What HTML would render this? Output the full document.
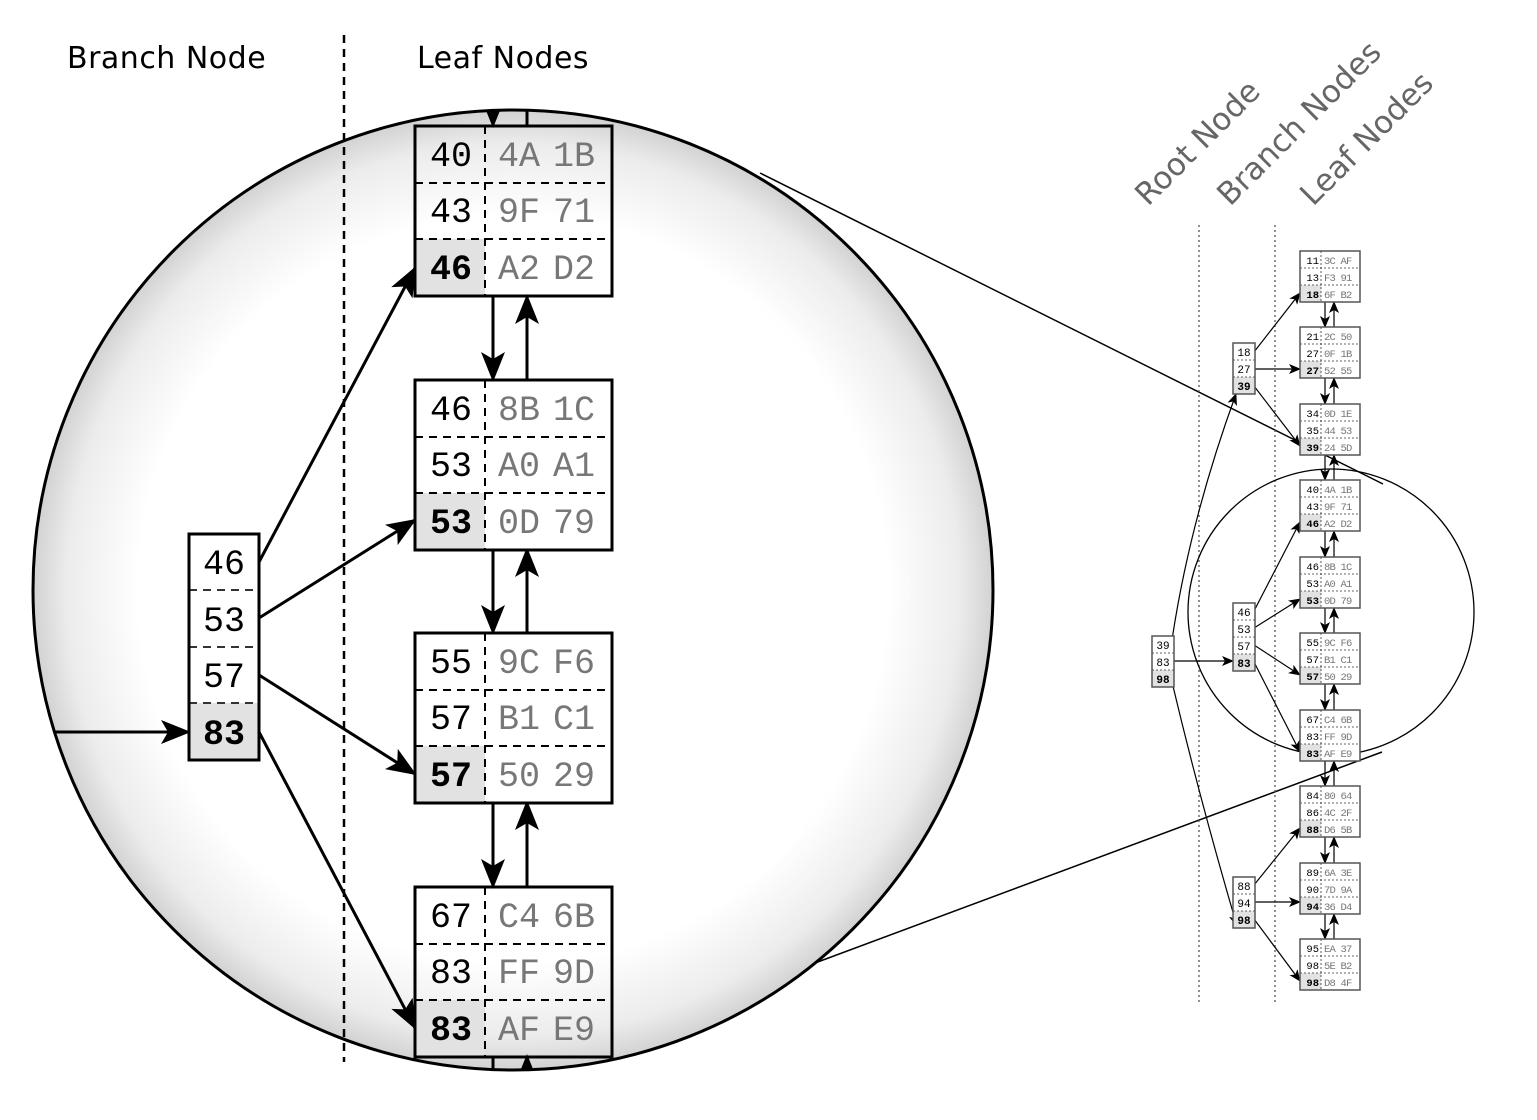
<!DOCTYPE html>
<html><head><meta charset="utf-8"><style>
html,body{margin:0;padding:0;background:#fff;}
svg{display:block;}
.m{font-family:"Liberation Mono",monospace;}
</style></head><body>
<svg width="1537" height="1120" viewBox="0 0 1537 1120" xmlns="http://www.w3.org/2000/svg">
<defs>
<radialGradient id="g" cx="513" cy="590" r="480" gradientUnits="userSpaceOnUse">
<stop offset="0" stop-color="#fff"/><stop offset="0.78" stop-color="#fff"/><stop offset="0.93" stop-color="#ececec"/><stop offset="1" stop-color="#d2d2d2"/>
</radialGradient>
<marker id="A" markerWidth="12" markerHeight="10" refX="11" refY="5" orient="auto" markerUnits="userSpaceOnUse" viewBox="0 0 12 10">
<path d="M0,0 L12,5 L0,10 L3,5 Z" fill="#000"/></marker>
<marker id="B" markerWidth="30" markerHeight="24" refX="28" refY="12" orient="auto" markerUnits="userSpaceOnUse" viewBox="0 0 30 24">
<path d="M0,0 L30,12 L0,24 L7,12 Z" fill="#000"/></marker>
<clipPath id="cc"><circle cx="513" cy="590" r="480"/></clipPath>
</defs>

<line x1="760" y1="173" x2="1383" y2="484" stroke="#000" stroke-width="1.5"/>
<line x1="815" y1="963" x2="1382" y2="752" stroke="#000" stroke-width="1.5"/>

<circle cx="513" cy="590" r="480" fill="url(#g)" stroke="#000" stroke-width="3"/>

<g font-family="DejaVu Sans, sans-serif" font-size="30" fill="#000">
<text x="67" y="68" letter-spacing="0.5">Branch Node</text>
<text x="417" y="68" letter-spacing="0.5">Leaf Nodes</text>
</g>
<line x1="344" y1="35" x2="344" y2="1062" stroke="#000" stroke-width="2.5" stroke-dasharray="8,6"/>

<g clip-path="url(#cc)" stroke="#000" stroke-width="3">
<line x1="493" y1="100" x2="493" y2="126" marker-end="url(#B)"/>
<line x1="527" y1="126" x2="527" y2="100"/>
<line x1="493" y1="1056" x2="493" y2="1080"/>
<line x1="527" y1="1080" x2="527" y2="1056" marker-end="url(#B)"/>
</g>
<g stroke="#000" stroke-width="3">
<line x1="493" y1="296" x2="493" y2="380" marker-end="url(#B)"/>
<line x1="527" y1="380" x2="527" y2="296" marker-end="url(#B)"/>
<line x1="493" y1="549" x2="493" y2="633" marker-end="url(#B)"/>
<line x1="527" y1="633" x2="527" y2="549" marker-end="url(#B)"/>
<line x1="493" y1="802" x2="493" y2="887" marker-end="url(#B)"/>
<line x1="527" y1="887" x2="527" y2="802" marker-end="url(#B)"/>
<line x1="55" y1="732" x2="189" y2="732" marker-end="url(#B)"/>
<line x1="259" y1="562" x2="415" y2="268" marker-end="url(#B)"/>
<line x1="259" y1="618" x2="415" y2="520" marker-end="url(#B)"/>
<line x1="259" y1="675" x2="415" y2="774" marker-end="url(#B)"/>
<line x1="259" y1="732" x2="415" y2="1028" marker-end="url(#B)"/>
</g>

<rect x="189" y="534" width="70" height="226" fill="#fff"/>
<rect x="189" y="703" width="70" height="57" fill="#e2e2e2"/>
<g stroke="#333" stroke-width="2" stroke-dasharray="8,6"><line x1="189" y1="590" x2="259" y2="590"/><line x1="189" y1="647" x2="259" y2="647"/><line x1="189" y1="703" x2="259" y2="703"/></g>
<rect x="189" y="534" width="70" height="226" fill="none" stroke="#000" stroke-width="3"/>
<g class="m" font-size="35" text-anchor="middle">
<text x="224" y="574">46</text><text x="224" y="631">53</text><text x="224" y="687">57</text><text x="224" y="744" font-weight="bold">83</text>
</g>

<g class="m" font-size="35">
<g transform="translate(0,126)">
<rect x="415" y="113" width="70" height="57" fill="#e2e2e2"/>
<g stroke="#000" stroke-width="2" stroke-dasharray="8,6"><line x1="415" y1="57" x2="612" y2="57"/><line x1="415" y1="113" x2="612" y2="113"/><line x1="485" y1="0" x2="485" y2="170"/></g>
<rect x="415" y="0" width="197" height="170" fill="none" stroke="#000" stroke-width="3"/>
<text x="472" y="40" text-anchor="end">40</text><text x="472" y="96" text-anchor="end">43</text><text x="472" y="153" text-anchor="end" font-weight="bold">46</text>
<g fill="#777"><text x="498" y="40">4A</text><text x="553" y="40">1B</text><text x="498" y="96">9F</text><text x="553" y="96">71</text><text x="498" y="153">A2</text><text x="553" y="153">D2</text></g>
</g>
<g transform="translate(0,380)">
<rect x="415" y="0" width="197" height="170" fill="#fff"/>
<rect x="415" y="113" width="70" height="57" fill="#e2e2e2"/>
<g stroke="#000" stroke-width="2" stroke-dasharray="8,6"><line x1="415" y1="57" x2="612" y2="57"/><line x1="415" y1="113" x2="612" y2="113"/><line x1="485" y1="0" x2="485" y2="170"/></g>
<rect x="415" y="0" width="197" height="170" fill="none" stroke="#000" stroke-width="3"/>
<text x="472" y="40" text-anchor="end">46</text><text x="472" y="96" text-anchor="end">53</text><text x="472" y="153" text-anchor="end" font-weight="bold">53</text>
<g fill="#777"><text x="498" y="40">8B</text><text x="553" y="40">1C</text><text x="498" y="96">A0</text><text x="553" y="96">A1</text><text x="498" y="153">0D</text><text x="553" y="153">79</text></g>
</g>
<g transform="translate(0,633)">
<rect x="415" y="0" width="197" height="170" fill="#fff"/>
<rect x="415" y="113" width="70" height="57" fill="#e2e2e2"/>
<g stroke="#000" stroke-width="2" stroke-dasharray="8,6"><line x1="415" y1="57" x2="612" y2="57"/><line x1="415" y1="113" x2="612" y2="113"/><line x1="485" y1="0" x2="485" y2="170"/></g>
<rect x="415" y="0" width="197" height="170" fill="none" stroke="#000" stroke-width="3"/>
<text x="472" y="40" text-anchor="end">55</text><text x="472" y="96" text-anchor="end">57</text><text x="472" y="153" text-anchor="end" font-weight="bold">57</text>
<g fill="#777"><text x="498" y="40">9C</text><text x="553" y="40">F6</text><text x="498" y="96">B1</text><text x="553" y="96">C1</text><text x="498" y="153">50</text><text x="553" y="153">29</text></g>
</g>
<g transform="translate(0,887)">
<rect x="415" y="113" width="70" height="57" fill="#e2e2e2"/>
<g stroke="#000" stroke-width="2" stroke-dasharray="8,6"><line x1="415" y1="57" x2="612" y2="57"/><line x1="415" y1="113" x2="612" y2="113"/><line x1="485" y1="0" x2="485" y2="170"/></g>
<rect x="415" y="0" width="197" height="170" fill="none" stroke="#000" stroke-width="3"/>
<text x="472" y="40" text-anchor="end">67</text><text x="472" y="96" text-anchor="end">83</text><text x="472" y="153" text-anchor="end" font-weight="bold">83</text>
<g fill="#777"><text x="498" y="40">C4</text><text x="553" y="40">6B</text><text x="498" y="96">FF</text><text x="553" y="96">9D</text><text x="498" y="153">AF</text><text x="553" y="153">E9</text></g>
</g>
</g>

<g font-family="DejaVu Sans, sans-serif" font-size="31" fill="#666">
<text transform="translate(1148,207) rotate(-45)">Root Node</text>
<text transform="translate(1230,207) rotate(-45)">Branch Nodes</text>
<text transform="translate(1313,207) rotate(-45)">Leaf Nodes</text>
</g>
<g stroke="#555" stroke-width="1.3" stroke-dasharray="2,3">
<line x1="1199" y1="225" x2="1199" y2="1005"/><line x1="1275" y1="225" x2="1275" y2="1005"/>
</g>

<circle cx="1331" cy="612" r="143" fill="none" stroke="#000" stroke-width="1.3"/>

<g stroke="#000" stroke-width="1.2" fill="none">
<path d="M1172,640 Q1190,520 1236,394" marker-end="url(#A)"/>
<line x1="1174" y1="661" x2="1233" y2="661" marker-end="url(#A)"/>
<path d="M1172,682 Q1200,800 1237,926" marker-end="url(#A)"/>
<line x1="1254" y1="352" x2="1300" y2="293" marker-end="url(#A)"/>
<line x1="1254" y1="369" x2="1300" y2="369" marker-end="url(#A)"/>
<line x1="1254" y1="386" x2="1300" y2="446" marker-end="url(#A)"/>
<line x1="1254" y1="611" x2="1300" y2="522" marker-end="url(#A)"/>
<line x1="1254" y1="628" x2="1300" y2="599" marker-end="url(#A)"/>
<line x1="1254" y1="645" x2="1300" y2="675" marker-end="url(#A)"/>
<line x1="1254" y1="662" x2="1300" y2="752" marker-end="url(#A)"/>
<line x1="1254" y1="885" x2="1300" y2="828" marker-end="url(#A)"/>
<line x1="1254" y1="902" x2="1300" y2="902" marker-end="url(#A)"/>
<line x1="1254" y1="919" x2="1300" y2="981" marker-end="url(#A)"/>
</g>
<g stroke="#000" stroke-width="1.2">
<line x1="1325" y1="302" x2="1325" y2="327" marker-end="url(#A)"/><line x1="1334" y1="327" x2="1334" y2="302" marker-end="url(#A)"/>
<line x1="1325" y1="378" x2="1325" y2="404" marker-end="url(#A)"/><line x1="1334" y1="404" x2="1334" y2="378" marker-end="url(#A)"/>
<line x1="1325" y1="455" x2="1325" y2="480" marker-end="url(#A)"/><line x1="1334" y1="480" x2="1334" y2="455" marker-end="url(#A)"/>
<line x1="1325" y1="531" x2="1325" y2="557" marker-end="url(#A)"/><line x1="1334" y1="557" x2="1334" y2="531" marker-end="url(#A)"/>
<line x1="1325" y1="608" x2="1325" y2="633" marker-end="url(#A)"/><line x1="1334" y1="633" x2="1334" y2="608" marker-end="url(#A)"/>
<line x1="1325" y1="684" x2="1325" y2="710" marker-end="url(#A)"/><line x1="1334" y1="710" x2="1334" y2="684" marker-end="url(#A)"/>
<line x1="1325" y1="761" x2="1325" y2="786" marker-end="url(#A)"/><line x1="1334" y1="786" x2="1334" y2="761" marker-end="url(#A)"/>
<line x1="1325" y1="837" x2="1325" y2="863" marker-end="url(#A)"/><line x1="1334" y1="863" x2="1334" y2="837" marker-end="url(#A)"/>
<line x1="1325" y1="914" x2="1325" y2="939" marker-end="url(#A)"/><line x1="1334" y1="939" x2="1334" y2="914" marker-end="url(#A)"/>
</g>

<g class="m" font-size="11" text-anchor="middle">
<g transform="translate(1152,636)">
<rect x="0" y="0" width="22" height="51" fill="#fff"/><rect x="0" y="34" width="22" height="17" fill="#e2e2e2"/>
<g stroke="#333" stroke-width="0.8" stroke-dasharray="2,2"><line x1="0" y1="17" x2="22" y2="17"/><line x1="0" y1="34" x2="22" y2="34"/></g>
<rect x="0" y="0" width="22" height="51" fill="none" stroke="#555" stroke-width="1.5"/>
<text x="11" y="13">39</text><text x="11" y="30">83</text><text x="11" y="47" font-weight="bold">98</text>
</g>
<g transform="translate(1233,343)">
<rect x="0" y="0" width="22" height="51" fill="#fff"/><rect x="0" y="34" width="22" height="17" fill="#e2e2e2"/>
<g stroke="#333" stroke-width="0.8" stroke-dasharray="2,2"><line x1="0" y1="17" x2="22" y2="17"/><line x1="0" y1="34" x2="22" y2="34"/></g>
<rect x="0" y="0" width="22" height="51" fill="none" stroke="#555" stroke-width="1.5"/>
<text x="11" y="13">18</text><text x="11" y="30">27</text><text x="11" y="47" font-weight="bold">39</text>
</g>
<g transform="translate(1233,603)">
<rect x="0" y="0" width="22" height="68" fill="#fff"/><rect x="0" y="51" width="22" height="17" fill="#e2e2e2"/>
<g stroke="#333" stroke-width="0.8" stroke-dasharray="2,2"><line x1="0" y1="17" x2="22" y2="17"/><line x1="0" y1="34" x2="22" y2="34"/><line x1="0" y1="51" x2="22" y2="51"/></g>
<rect x="0" y="0" width="22" height="68" fill="none" stroke="#555" stroke-width="1.5"/>
<text x="11" y="13">46</text><text x="11" y="30">53</text><text x="11" y="47">57</text><text x="11" y="64" font-weight="bold">83</text>
</g>
<g transform="translate(1233,877)">
<rect x="0" y="0" width="22" height="51" fill="#fff"/><rect x="0" y="34" width="22" height="17" fill="#e2e2e2"/>
<g stroke="#333" stroke-width="0.8" stroke-dasharray="2,2"><line x1="0" y1="17" x2="22" y2="17"/><line x1="0" y1="34" x2="22" y2="34"/></g>
<rect x="0" y="0" width="22" height="51" fill="none" stroke="#555" stroke-width="1.5"/>
<text x="11" y="13">88</text><text x="11" y="30">94</text><text x="11" y="47" font-weight="bold">98</text>
</g>
</g>

<g class="m" font-size="10.5">
<g transform="translate(1300,251)"><rect width="60" height="51" fill="#fff"/><rect y="34" width="21" height="17" fill="#e2e2e2"/><g stroke="#333" stroke-width="0.8" stroke-dasharray="2,2"><line x1="0" y1="17" x2="60" y2="17"/><line x1="0" y1="34" x2="60" y2="34"/><line x1="21" y1="0" x2="21" y2="51"/></g><rect width="60" height="51" fill="none" stroke="#555" stroke-width="1.5"/><text x="19" y="13" text-anchor="end">11</text><text x="19" y="30" text-anchor="end">13</text><text x="19" y="47" text-anchor="end" font-weight="bold">18</text><g fill="#777" letter-spacing="-0.8"><text x="24" y="13">3C AF</text><text x="24" y="30">F3 91</text><text x="24" y="47">6F B2</text></g></g>
<g transform="translate(1300,327)"><rect width="60" height="51" fill="#fff"/><rect y="34" width="21" height="17" fill="#e2e2e2"/><g stroke="#333" stroke-width="0.8" stroke-dasharray="2,2"><line x1="0" y1="17" x2="60" y2="17"/><line x1="0" y1="34" x2="60" y2="34"/><line x1="21" y1="0" x2="21" y2="51"/></g><rect width="60" height="51" fill="none" stroke="#555" stroke-width="1.5"/><text x="19" y="13" text-anchor="end">21</text><text x="19" y="30" text-anchor="end">27</text><text x="19" y="47" text-anchor="end" font-weight="bold">27</text><g fill="#777" letter-spacing="-0.8"><text x="24" y="13">2C 50</text><text x="24" y="30">0F 1B</text><text x="24" y="47">52 55</text></g></g>
<g transform="translate(1300,404)"><rect width="60" height="51" fill="#fff"/><rect y="34" width="21" height="17" fill="#e2e2e2"/><g stroke="#333" stroke-width="0.8" stroke-dasharray="2,2"><line x1="0" y1="17" x2="60" y2="17"/><line x1="0" y1="34" x2="60" y2="34"/><line x1="21" y1="0" x2="21" y2="51"/></g><rect width="60" height="51" fill="none" stroke="#555" stroke-width="1.5"/><text x="19" y="13" text-anchor="end">34</text><text x="19" y="30" text-anchor="end">35</text><text x="19" y="47" text-anchor="end" font-weight="bold">39</text><g fill="#777" letter-spacing="-0.8"><text x="24" y="13">0D 1E</text><text x="24" y="30">44 53</text><text x="24" y="47">24 5D</text></g></g>
<g transform="translate(1300,480)"><rect width="60" height="51" fill="#fff"/><rect y="34" width="21" height="17" fill="#e2e2e2"/><g stroke="#333" stroke-width="0.8" stroke-dasharray="2,2"><line x1="0" y1="17" x2="60" y2="17"/><line x1="0" y1="34" x2="60" y2="34"/><line x1="21" y1="0" x2="21" y2="51"/></g><rect width="60" height="51" fill="none" stroke="#555" stroke-width="1.5"/><text x="19" y="13" text-anchor="end">40</text><text x="19" y="30" text-anchor="end">43</text><text x="19" y="47" text-anchor="end" font-weight="bold">46</text><g fill="#777" letter-spacing="-0.8"><text x="24" y="13">4A 1B</text><text x="24" y="30">9F 71</text><text x="24" y="47">A2 D2</text></g></g>
<g transform="translate(1300,557)"><rect width="60" height="51" fill="#fff"/><rect y="34" width="21" height="17" fill="#e2e2e2"/><g stroke="#333" stroke-width="0.8" stroke-dasharray="2,2"><line x1="0" y1="17" x2="60" y2="17"/><line x1="0" y1="34" x2="60" y2="34"/><line x1="21" y1="0" x2="21" y2="51"/></g><rect width="60" height="51" fill="none" stroke="#555" stroke-width="1.5"/><text x="19" y="13" text-anchor="end">46</text><text x="19" y="30" text-anchor="end">53</text><text x="19" y="47" text-anchor="end" font-weight="bold">53</text><g fill="#777" letter-spacing="-0.8"><text x="24" y="13">8B 1C</text><text x="24" y="30">A0 A1</text><text x="24" y="47">0D 79</text></g></g>
<g transform="translate(1300,633)"><rect width="60" height="51" fill="#fff"/><rect y="34" width="21" height="17" fill="#e2e2e2"/><g stroke="#333" stroke-width="0.8" stroke-dasharray="2,2"><line x1="0" y1="17" x2="60" y2="17"/><line x1="0" y1="34" x2="60" y2="34"/><line x1="21" y1="0" x2="21" y2="51"/></g><rect width="60" height="51" fill="none" stroke="#555" stroke-width="1.5"/><text x="19" y="13" text-anchor="end">55</text><text x="19" y="30" text-anchor="end">57</text><text x="19" y="47" text-anchor="end" font-weight="bold">57</text><g fill="#777" letter-spacing="-0.8"><text x="24" y="13">9C F6</text><text x="24" y="30">B1 C1</text><text x="24" y="47">50 29</text></g></g>
<g transform="translate(1300,710)"><rect width="60" height="51" fill="#fff"/><rect y="34" width="21" height="17" fill="#e2e2e2"/><g stroke="#333" stroke-width="0.8" stroke-dasharray="2,2"><line x1="0" y1="17" x2="60" y2="17"/><line x1="0" y1="34" x2="60" y2="34"/><line x1="21" y1="0" x2="21" y2="51"/></g><rect width="60" height="51" fill="none" stroke="#555" stroke-width="1.5"/><text x="19" y="13" text-anchor="end">67</text><text x="19" y="30" text-anchor="end">83</text><text x="19" y="47" text-anchor="end" font-weight="bold">83</text><g fill="#777" letter-spacing="-0.8"><text x="24" y="13">C4 6B</text><text x="24" y="30">FF 9D</text><text x="24" y="47">AF E9</text></g></g>
<g transform="translate(1300,786)"><rect width="60" height="51" fill="#fff"/><rect y="34" width="21" height="17" fill="#e2e2e2"/><g stroke="#333" stroke-width="0.8" stroke-dasharray="2,2"><line x1="0" y1="17" x2="60" y2="17"/><line x1="0" y1="34" x2="60" y2="34"/><line x1="21" y1="0" x2="21" y2="51"/></g><rect width="60" height="51" fill="none" stroke="#555" stroke-width="1.5"/><text x="19" y="13" text-anchor="end">84</text><text x="19" y="30" text-anchor="end">86</text><text x="19" y="47" text-anchor="end" font-weight="bold">88</text><g fill="#777" letter-spacing="-0.8"><text x="24" y="13">80 64</text><text x="24" y="30">4C 2F</text><text x="24" y="47">D6 5B</text></g></g>
<g transform="translate(1300,863)"><rect width="60" height="51" fill="#fff"/><rect y="34" width="21" height="17" fill="#e2e2e2"/><g stroke="#333" stroke-width="0.8" stroke-dasharray="2,2"><line x1="0" y1="17" x2="60" y2="17"/><line x1="0" y1="34" x2="60" y2="34"/><line x1="21" y1="0" x2="21" y2="51"/></g><rect width="60" height="51" fill="none" stroke="#555" stroke-width="1.5"/><text x="19" y="13" text-anchor="end">89</text><text x="19" y="30" text-anchor="end">90</text><text x="19" y="47" text-anchor="end" font-weight="bold">94</text><g fill="#777" letter-spacing="-0.8"><text x="24" y="13">6A 3E</text><text x="24" y="30">7D 9A</text><text x="24" y="47">36 D4</text></g></g>
<g transform="translate(1300,939)"><rect width="60" height="51" fill="#fff"/><rect y="34" width="21" height="17" fill="#e2e2e2"/><g stroke="#333" stroke-width="0.8" stroke-dasharray="2,2"><line x1="0" y1="17" x2="60" y2="17"/><line x1="0" y1="34" x2="60" y2="34"/><line x1="21" y1="0" x2="21" y2="51"/></g><rect width="60" height="51" fill="none" stroke="#555" stroke-width="1.5"/><text x="19" y="13" text-anchor="end">95</text><text x="19" y="30" text-anchor="end">98</text><text x="19" y="47" text-anchor="end" font-weight="bold">98</text><g fill="#777" letter-spacing="-0.8"><text x="24" y="13">EA 37</text><text x="24" y="30">5E B2</text><text x="24" y="47">D8 4F</text></g></g>
</g>
</svg>
</body></html>
